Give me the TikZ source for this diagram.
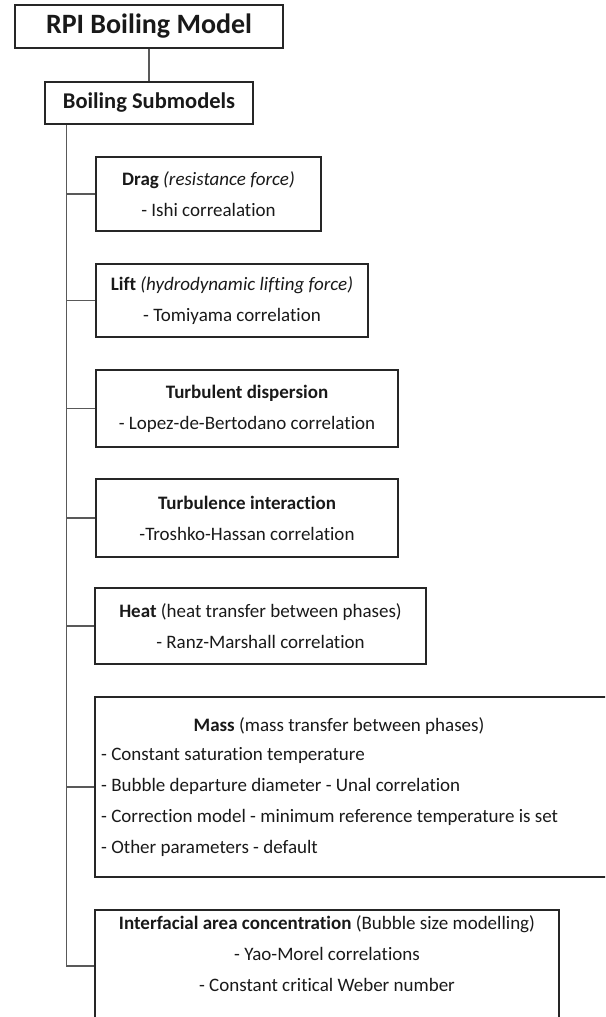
\documentclass[tikz,border=0pt]{standalone}
\usepackage{fontspec}
\setmainfont{Carlito}[Ligatures={TeX,NoCommon}]
\begin{document}
\begin{tikzpicture}[x=1pt,y=-1pt,
  box/.style={draw=black!85, line width=1.3pt, rectangle, inner sep=0pt, text=black!90, align=center},
  body/.style={font=\fontsize{19}{31}\selectfont},
  conn/.style={draw=black!65, line width=1.3pt}]
\useasboundingbox (0,0) rectangle (605,1017);
\clip (0,0) rectangle (605,1017);
\node[box, minimum width=268pt, minimum height=43pt, font=\fontsize{28}{32}\selectfont\bfseries] (rpi) at (149,26.5) {RPI Boiling Model};
\node[box, minimum width=208pt, minimum height=42pt, font=\fontsize{22.5}{26}\selectfont\bfseries] (sub) at (149,103) {Boiling Submodels};
\node[box, body, minimum width=225pt, minimum height=74pt] (drag) at (208.5,194) {\textbf{Drag} \textit{(resistance force)}\\- Ishi correalation};
\node[box, body, minimum width=272pt, minimum height=73pt] (lift) at (232,300.5) {\textbf{Lift} \textit{(hydrodynamic lifting force)}\\- Tomiyama correlation};
\node[box, body, minimum width=302pt, minimum height=77pt] (tdisp) at (247,408.5) {\textbf{Turbulent dispersion}\\- Lopez-de-Bertodano correlation};
\node[box, body, minimum width=302pt, minimum height=78pt] (tint) at (247,518) {\textbf{Turbulence interaction}\\-Troshko-Hassan correlation};
\node[box, body, minimum width=331pt, minimum height=76pt] (heat) at (260.5,626) {\textbf{Heat} (heat transfer between phases)\\- Ranz-Marshall correlation};
\node[box, minimum width=525pt, minimum height=180pt] (mass) at (357.5,787) {};
\node[body, text=black!90, inner sep=0pt] (masstitle) at (339,726) {\textbf{Mass} (mass transfer between phases)};
\node[body, text=black!90, inner sep=0pt, align=left, anchor=west] (masslist) at (101,801.5) {- Constant saturation temperature\\- Bubble departure diameter - Unal correlation\\- Correction model - minimum reference temperature is set\\- Other parameters - default};
\node[box, minimum width=464pt, minimum height=112pt] (inter) at (327,966) {};
\node[body, text=black!90, inner sep=0pt, align=center] (intertext) at (327,954) {\textbf{Interfacial area concentration} (Bubble size modelling)\\- Yao-Morel correlations\\- Constant critical Weber number};
\coordinate (t0) at ([xshift=22pt]sub.south west);
\draw[conn] (rpi.south) -- (sub.north);
\draw[conn] (t0) |- (inter.west);
\foreach \n in {drag,lift,tdisp,tint,heat,mass}
  \draw[conn] (t0 |- \n.west) -- (\n.west);
\end{tikzpicture}
\end{document}
